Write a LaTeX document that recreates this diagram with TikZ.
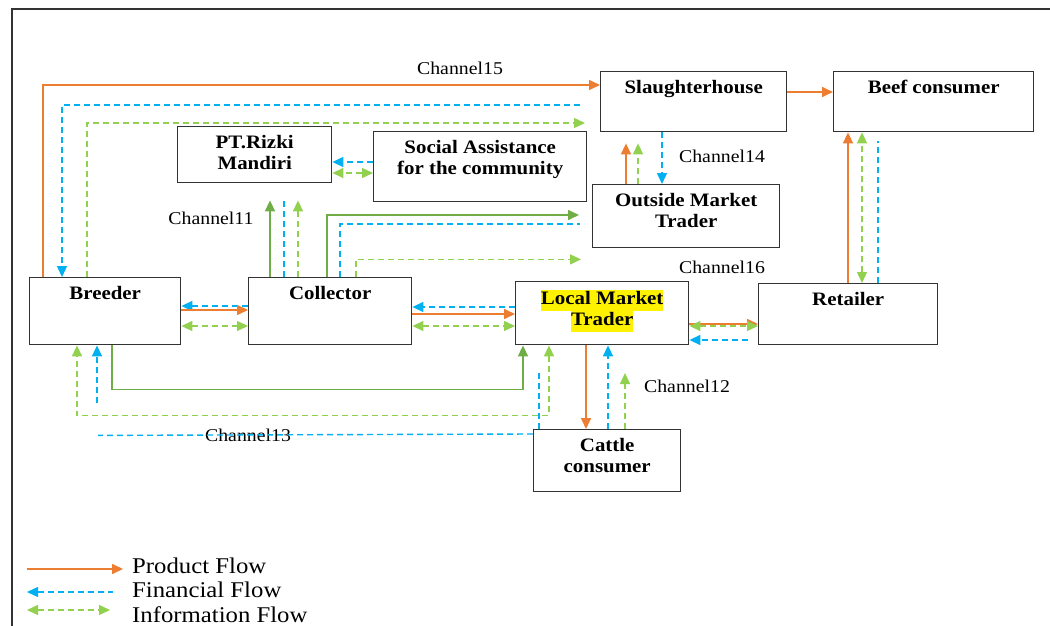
\documentclass[tikz,border=0pt]{standalone}
\usepackage{fontspec}
\setmainfont{Liberation Serif}[FakeStretch=1.1]
\usetikzlibrary{arrows.meta}
\definecolor{prodc}{HTML}{ED7D31}
\definecolor{finc}{HTML}{00B0F0}
\definecolor{infoc}{HTML}{92D050}
\definecolor{linkc}{HTML}{70AD47}
\definecolor{edgec}{HTML}{333333}
\newcommand{\hilite}[1]{{\setlength{\fboxsep}{0pt}\colorbox{yellow}{\strut #1}}}
\begin{document}
\begin{tikzpicture}[x=1pt,y=-1pt,
  box/.style={draw=edgec,line width=1.4pt,inner sep=0pt,anchor=north west},
  lbl/.style={anchor=north,inner xsep=0pt,inner ysep=9pt,align=center,font=\fontsize{19}{21}\selectfont\bfseries},
  chan/.style={inner sep=0pt,font=\fontsize{18}{20}\selectfont},
  legend/.style={anchor=west,inner sep=0pt,font=\fontsize{22.5}{24}\selectfont},
  >={Triangle[length=11pt,width=10pt]},
  prod/.style={draw=prodc,line width=1.6pt},
  fin/.style={draw=finc,line width=1.4pt,dash pattern=on 6pt off 4pt},
  info/.style={draw=infoc,line width=1.4pt,dash pattern=on 6pt off 4pt},
  link/.style={draw=linkc,line width=1.6pt}]
\useasboundingbox (0,0) rectangle (1050,626);
\draw[edgec,line width=1.4pt] (12,626) -- (12,9) -- (1050,9);

% boxes
\node[box,minimum width=151pt,minimum height=67pt,label={[lbl]north:Breeder}] (breeder) at (29,277) {};
\node[box,minimum width=163pt,minimum height=67pt,label={[lbl]north:Collector}] (collector) at (248,277) {};
\node[box,minimum width=173pt,minimum height=63pt,label={[lbl]north:{\hilite{Local Market}\\\hilite{Trader}}}] (lmt) at (515,281) {};
\node[box,minimum width=179pt,minimum height=61pt,label={[lbl]north:Retailer}] (retailer) at (758,283) {};
\node[box,minimum width=186pt,minimum height=60pt,label={[lbl]north:Slaughterhouse}] (slaughter) at (600,71) {};
\node[box,minimum width=200pt,minimum height=60pt,label={[lbl]north:Beef consumer}] (beef) at (833,71) {};
\node[box,minimum width=154pt,minimum height=56pt,label={[lbl,inner ysep=9pt]north:{PT.Rizki\\Mandiri}}] (rizki) at (177,126) {};
\node[box,minimum width=213pt,minimum height=70pt,label={[lbl]north:{Social Assistance\\for the community}}] (social) at (373,131) {};
\node[box,minimum width=187pt,minimum height=63pt,label={[lbl]north:{Outside Market\\Trader}}] (outside) at (592,184) {};
\node[box,minimum width=147pt,minimum height=62pt,label={[lbl]north:{Cattle\\consumer}}] (cattle) at (533,429) {};

% channel labels
\foreach \t/\x/\y in {Channel15/460/68,Channel14/722/156,Channel11/211/218,Channel16/722/267,Channel12/687/386,Channel13/248/435}
  \node[chan] (\t) at (\x,\y) {\t};

% channel 5: breeder - slaughterhouse
\draw[prod,->] ([xshift=14pt]breeder.north west) |- ([yshift=-14pt]slaughter.north west);
\draw[fin,->] ([xshift=-20pt,yshift=-34pt]slaughter.north west) -| ([xshift=33pt]breeder.north west);
\draw[info,->] ([xshift=58pt]breeder.north west) |- ([xshift=-15pt,yshift=-52pt]slaughter.north west);
\draw[prod,->] ([yshift=-21pt]slaughter.north east) -- ([yshift=-21pt]beef.north west);

% social assistance - rizki
\draw[fin,->] ([yshift=-31pt]social.north west) -- ([yshift=-36pt]rizki.north east);
\draw[info,<->] ([yshift=-42pt]social.north west) -- ([yshift=-47pt]rizki.north east);

% channel 1: collector - rizki
\draw[link,->] ([xshift=22pt]collector.north west) -- ([xshift=93pt,yshift=-17pt]rizki.south west);
\draw[fin] ([xshift=36pt]collector.north west) -- ([xshift=107pt,yshift=-17pt]rizki.south west);
\draw[info,->] ([xshift=50pt]collector.north west) -- ([xshift=121pt,yshift=-17pt]rizki.south west);

% channel 4: collector - outside market trader - slaughterhouse
\draw[link,->] ([xshift=79pt]collector.north west) |- ([xshift=-13pt,yshift=-31pt]outside.north west);
\draw[fin] ([xshift=92pt]collector.north west) |- ([xshift=-12pt,yshift=-40pt]outside.north west);
\draw[info,->] ([xshift=108pt]collector.north west) |- ([xshift=-11pt,yshift=-11pt]outside.south west);
\draw[prod,->] ([xshift=34pt]outside.north west) -- ([xshift=26pt,yshift=-11pt]slaughter.south west);
\draw[info,->] ([xshift=46pt]outside.north west) -- ([xshift=38pt,yshift=-11pt]slaughter.south west);
\draw[fin,->] ([xshift=62pt]slaughter.south west) -- ([xshift=70pt]outside.north west);

% breeder - collector - local market trader
\draw[fin,->] ([yshift=-29pt]collector.north west) -- ([yshift=-29pt]breeder.north east);
\draw[prod,->] ([yshift=-33pt]breeder.north east) -- ([yshift=-33pt]collector.north west);
\draw[info,<->] ([yshift=-49pt]breeder.north east) -- ([yshift=-49pt]collector.north west);
\draw[fin,->] ([yshift=-26pt]lmt.north west) -- ([yshift=-30pt]collector.north east);
\draw[prod,->] ([yshift=-37pt]collector.north east) -- ([yshift=-33pt]lmt.north west);
\draw[info,<->] ([yshift=-49pt]collector.north east) -- ([yshift=-45pt]lmt.north west);

% channel 6: local market trader - retailer - beef consumer
\draw[prod,->] ([yshift=-43pt]lmt.north east) -- ([yshift=-41pt]retailer.north west);
\draw[info,<->] ([yshift=-45pt]lmt.north east) -- ([yshift=-43pt]retailer.north west);
\draw[fin,->] ([xshift=-10pt,yshift=-57pt]retailer.north west) -- ([yshift=-59pt]lmt.north east);
\draw[prod,->] ([xshift=90pt]retailer.north west) -- ([xshift=15pt]beef.south west);
\draw[info,<->] ([xshift=104pt]retailer.north west) -- ([xshift=29pt]beef.south west);
\draw[fin] ([xshift=120pt]retailer.north west) -- ([xshift=45pt,yshift=-9pt]beef.south west);

% channel 3: breeder - local market trader
\draw[link,->] ([xshift=83pt]breeder.south west) |- ([xshift=8pt,yshift=-44pt]lmt.south west) -- ([xshift=8pt]lmt.south west);
\draw[info,<->] ([xshift=34pt]lmt.south west) |- ([xshift=48pt,yshift=-70pt]breeder.south west) -- ([xshift=48pt]breeder.south west);
\draw[fin,->] ([xshift=68pt,yshift=-58pt]breeder.south west) -- ([xshift=68pt]breeder.south west);
\draw[fin] ([yshift=-5pt]cattle.north west) -- ([xshift=69pt,yshift=-90pt]breeder.south west);
\draw[fin] ([xshift=6pt]cattle.north west) -- ([xshift=6pt,yshift=56pt]cattle.north west);

% channel 2: local market trader - cattle consumer
\draw[prod,->] ([xshift=71pt]lmt.south west) -- ([xshift=53pt]cattle.north west);
\draw[fin,->] ([xshift=75pt]cattle.north west) -- ([xshift=93pt]lmt.south west);
\draw[info,->] ([xshift=92pt]cattle.north west) -- ([xshift=92pt,yshift=56pt]cattle.north west);

% legend
\node[legend] (lgprod) at (132,566) {Product Flow};
\node[legend] (lgfin) at (132,590) {Financial Flow};
\node[legend] (lginfo) at (132,615) {Information Flow};
\coordinate (p1) at (27,569);
\coordinate (f1) at (27,592);
\coordinate (i1) at (27,610);
\draw[prod,->] (p1) -- ([xshift=-9pt,yshift=-3pt]lgprod.west);
\draw[fin,<-] (f1) -- ([xshift=-19pt,yshift=-2pt]lgfin.west);
\draw[info,<->] (i1) -- ([xshift=-22pt,yshift=5pt]lginfo.west);
\end{tikzpicture}
\end{document}
